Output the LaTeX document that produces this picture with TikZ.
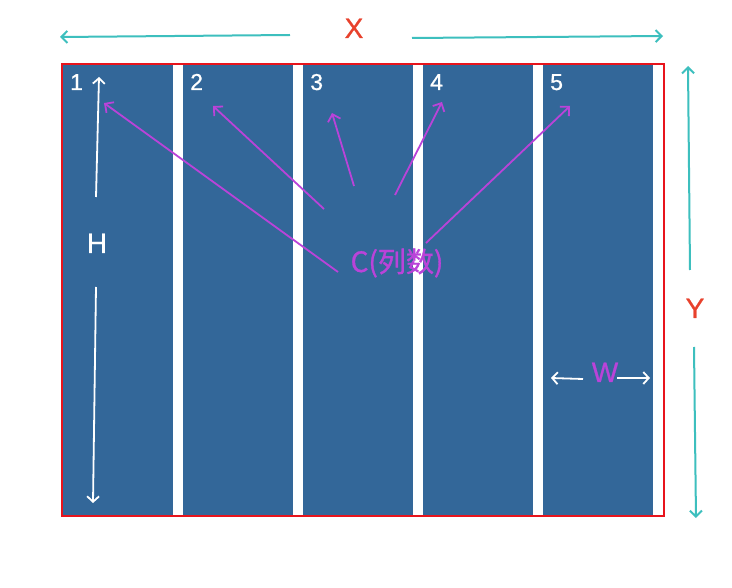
\documentclass[tikz,border=0pt]{standalone}
\usepackage{fontspec}
\setmainfont{Liberation Sans}
\newfontfamily\cjk[FakeBold=1.2]{Noto Sans CJK SC}
\newfontfamily\semib[FakeBold=0.8]{Liberation Sans}
\usetikzlibrary{arrows.meta}
\definecolor{colblue}{HTML}{336799}
\definecolor{framered}{HTML}{E8141C}
\definecolor{tealc}{HTML}{3DBFBE}
\definecolor{purp}{HTML}{BA43D9}
\definecolor{labred}{HTML}{E8412C}
\begin{document}
\begin{tikzpicture}[x=1pt,y=-1pt,
  colbox/.style={fill=colblue, draw=none, minimum width=110pt, minimum height=452pt, inner sep=0pt, anchor=north west},
  numlabel/.style={text=white, font=\semib\fontsize{23}{25}\selectfont, inner sep=0pt, anchor=base west},
  tealarrow/.style={draw=tealc, line width=2pt, -{Straight Barb[length=6pt,width=12pt,line width=2pt]}},
  whitearrow/.style={draw=white, line width=1.8pt, -{Straight Barb[length=5.5pt,width=12pt,line width=1.8pt]}},
  purparrow/.style={draw=purp, line width=1.8pt, -{Straight Barb[length=6.5pt,width=13pt,line width=1.8pt]}},
  biglabel/.style={font=\semib\fontsize{28}{30}\selectfont, inner sep=0pt, anchor=base}
]
\useasboundingbox[fill=white] (0,0) rectangle (732,588);
% columns
\node[colbox, minimum width=111pt] (col1) at (62,64) {};
\node[colbox] (col2) at (183,64) {};
\node[colbox] (col3) at (303,64) {};
\node[colbox] (col4) at (423,64) {};
\node[colbox] (col5) at (543,64) {};
% frame
\draw[framered, line width=2pt] (61.5,64.5) rectangle (663.5,515.5);
% column numbers
\node[numlabel] (n1) at (70,90) {1};
\node[numlabel] (n2) at (190,90) {2};
\node[numlabel] (n3) at (310,90) {3};
\node[numlabel] (n4) at (430,90) {4};
\node[numlabel] (n5) at (550,90) {5};
% X
\node[biglabel, text=labred] (X) at (354,38) {X};
\coordinate (xl0) at (290,35);
\coordinate (xl1) at (60,37);
\coordinate (xr0) at (412,38);
\coordinate (xr1) at (663,36);
\draw[tealarrow] (xl0) -- (xl1);
\draw[tealarrow] (xr0) -- (xr1);
% Y
\node[biglabel, text=labred] (Y) at (695,318) {Y};
\coordinate (yu0) at (690,270);
\coordinate (yu1) at (688,66);
\coordinate (yd0) at (694,347);
\coordinate (yd1) at (696,518);
\draw[tealarrow] (yu0) -- (yu1);
\draw[tealarrow] (yd0) -- (yd1);
% H
\node[biglabel, text=white] (H) at (97,253) {H};
\coordinate (hu0) at (96,197);
\coordinate (hu1) at (99,77);
\coordinate (hd0) at (96,287);
\coordinate (hd1) at (93,503);
\draw[whitearrow] (hu0) -- (hu1);
\draw[whitearrow] (hd0) -- (hd1);
% W
\node[biglabel, text=purp] (W) at (605,382) {W};
\coordinate (wl0) at (583,379);
\coordinate (wl1) at (551,378);
\coordinate (wr0) at (617,378);
\coordinate (wr1) at (650,378);
\draw[whitearrow] (wl0) -- (wl1);
\draw[whitearrow] (wr0) -- (wr1);
% C
\node[font=\cjk\fontsize{28}{30}\selectfont, text=purp, inner sep=0pt, anchor=base] (C) at (397,272) {C(列数)};
\coordinate (c1a) at (338,272);
\coordinate (c1b) at (104,103);
\coordinate (c2a) at (324,209);
\coordinate (c2b) at (213,106);
\coordinate (c3a) at (354,186);
\coordinate (c3b) at (332,113);
\coordinate (c4a) at (395,195);
\coordinate (c4b) at (442,102);
\coordinate (c5a) at (426,243);
\coordinate (c5b) at (570,106);
\draw[purparrow] (c1a) -- (c1b);
\draw[purparrow] (c2a) -- (c2b);
\draw[purparrow] (c3a) -- (c3b);
\draw[purparrow] (c4a) -- (c4b);
\draw[purparrow] (c5a) -- (c5b);
\end{tikzpicture}
\end{document}
